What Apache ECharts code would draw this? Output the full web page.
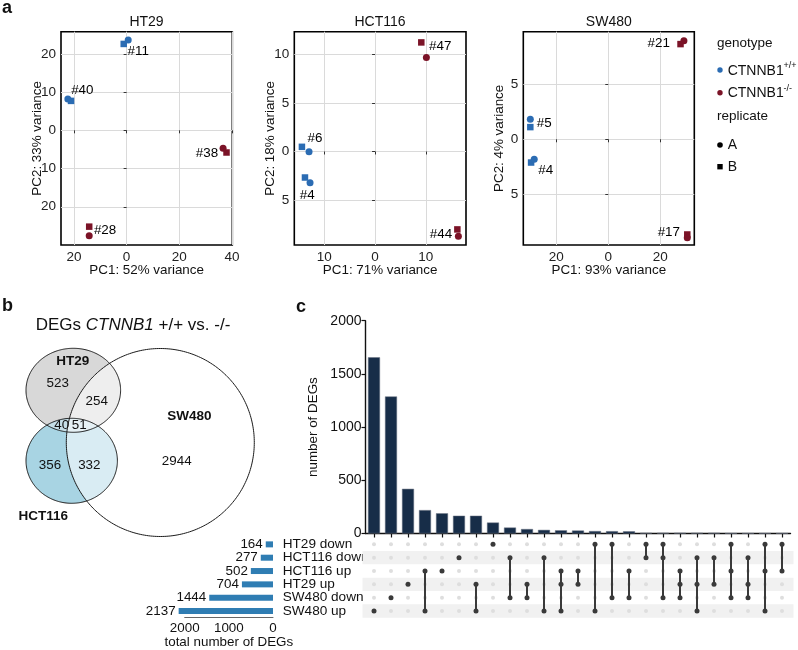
<!DOCTYPE html>
<html><head><meta charset="utf-8">
<script src="https://cdn.jsdelivr.net/npm/echarts@6/dist/echarts.min.js"></script>
<style>html,body{margin:0;padding:0;background:#fff}#c{width:798px;height:650px}</style>
</head><body><div id="c"></div><script>
// ================= DATA =================
// Panel a: PCA
const pcaPanels = ['HT29', 'HCT116', 'SW480'];
const pcaVarPC1 = [52, 71, 93];
const pcaVarPC2 = [33, 18, 4];

const ht29Samples = ['#11', '#40', '#38', '#28'];
const ht29Genotype = ['wt', 'wt', 'ko', 'ko'];
const ht29RepA = [[0.6, 23.6], [-22.3, 8.2], [36.6, -4.7], [-14.2, -27.6]];
const ht29RepB = [[-1.1, 22.6], [-21.1, 7.7], [37.9, -5.8], [-14.2, -25.2]];

const hct116Samples = ['#47', '#6', '#4', '#44'];
const hct116Genotype = ['ko', 'wt', 'wt', 'ko'];
const hct116RepA = [[10.1, 9.65], [-13.0, -0.03], [-12.8, -3.2], [16.4, -8.7]];
const hct116RepB = [[9.1, 11.2], [-14.4, 0.48], [-13.8, -2.67], [16.2, -8.0]];

const sw480Samples = ['#21', '#5', '#4', '#17'];
const sw480Genotype = ['ko', 'wt', 'wt', 'ko'];
const sw480RepA = [[29.1, 8.9], [-30.0, 1.8], [-28.5, -1.8], [30.4, -8.9]];
const sw480RepB = [[27.8, 8.6], [-30.0, 1.1], [-29.7, -2.1], [30.4, -8.6]];

const ht29XTicks = [-20, 0, 20, 40];
const ht29YTicks = [-20, -10, 0, 10, 20];
const hct116XTicks = [-10, 0, 10];
const hct116YTicks = [-5, 0, 5, 10];
const sw480XTicks = [-20, 0, 20];
const sw480YTicks = [-5, 0, 5];

// Panel b: Venn
const vennSets = ['HT29', 'HCT116', 'SW480'];
const vennRegions = ['HT29', 'HT29&SW480', 'HT29&HCT116', 'HT29&HCT116&SW480', 'HCT116', 'HCT116&SW480', 'SW480'];
const vennRegionCounts = [523, 254, 40, 51, 356, 332, 2944];

// Panel c: UpSet
const setNames = ['HT29 down', 'HCT116 down', 'HCT116 up', 'HT29 up', 'SW480 down', 'SW480 up'];
const setSizes = [164, 277, 502, 704, 1444, 2137];
const setSizeTicks = [0, 1000, 2000];
const intersectionTicks = [0, 500, 1000, 1500, 2000];
const intersectionCounts = [1656, 1288, 420, 220, 190, 167, 167, 103, 56, 42, 34, 30, 28, 23, 22, 21, 5, 5, 5, 5, 5, 2, 2, 2, 2];
const intersectionMembers = [
  ['SW480 up'], ['SW480 down'], ['HT29 up'], ['HCT116 up', 'SW480 up'], ['HCT116 up'],
  ['HCT116 down'], ['HT29 up', 'SW480 up'], ['HT29 down'], ['HCT116 down', 'SW480 down'], ['HT29 up', 'SW480 down'],
  ['HCT116 down', 'SW480 up'], ['HCT116 up', 'HT29 up', 'SW480 up'], ['HCT116 up', 'HT29 up'], ['HT29 down', 'SW480 up'], ['HT29 down', 'SW480 down'],
  ['HCT116 up', 'SW480 down'], ['HT29 down', 'HCT116 down'], ['HT29 down', 'HCT116 down', 'SW480 down'], ['HCT116 up', 'HT29 up', 'SW480 down'], ['HCT116 down', 'HT29 up', 'SW480 up'],
  ['HCT116 down', 'HT29 up'], ['HT29 down', 'HCT116 up', 'SW480 down'], ['HCT116 down', 'HT29 up', 'SW480 down'], ['HT29 down', 'HCT116 up', 'SW480 up'], ['HT29 down', 'HCT116 up']
];

// ================= STYLE / LAYOUT =================
const FONT = 'Liberation Sans, Arial, sans-serif';
const genoColor = { wt: '#2b6cb3', ko: '#7b1327' };
const pcaGrids = [
  { left: 61, top: 31.7, width: 171.3, height: 213.3, xmin: -24.9, xmax: 40.1, ymin: -30, ymax: 25.8 },
  { left: 294.3, top: 31.7, width: 171.7, height: 213.3, xmin: -15.9, xmax: 17.9, ymin: -9.6, ymax: 12.3 },
  { left: 523.3, top: 31.7, width: 171, height: 213.3, xmin: -32.7, xmax: 33.1, ymin: -9.55, ymax: 9.72 }
];
const labelLayouts = [
  [{ a: 'left', o: [-0.6, 11.7] }, { a: 'left', o: [3.3, -9] }, { a: 'right', o: [-5, 5] }, { a: 'left', o: [4.7, -5.7] }],
  [{ a: 'left', o: [2.7, -11] }, { a: 'left', o: [-1.6, -13.7] }, { a: 'left', o: [-10.3, 12.3] }, { a: 'right', o: [-6.3, -2] }],
  [{ a: 'right', o: [-14, 2.6] }, { a: 'left', o: [6.4, 4] }, { a: 'left', o: [4, 10.7] }, { a: 'right', o: [-7.3, -5] }]
];
const vennShapes = [
  { cx: 73.3, cy: 90.3, rx: 47.3, ry: 42, fill: '#d8d8d8' },
  { cx: 71.7, cy: 160.8, rx: 45.7, ry: 42.5, fill: '#a8d4e3' },
  { cx: 160.3, cy: 142.5, rx: 94, ry: 94, fill: 'rgba(255,255,255,0.56)' }
];
const lensFill = '#c6dfe8';
const vennCountPos = [[57.7, 83.3], [96.7, 101.7], [61.7, 125.7], [79.3, 125.7], [50, 165], [89.3, 165], [176.7, 161]];
const vennNamePos = [[72.7, 61.7], [43.3, 216.7], [189.3, 116.7]];
const stripeRows = [1, 3, 5];

// ================= BUILD =================
const grids = [], xAxes = [], yAxes = [], series = [];
const panelData = [
  [ht29Samples, ht29Genotype, ht29RepA, ht29RepB, ht29XTicks, ht29YTicks],
  [hct116Samples, hct116Genotype, hct116RepA, hct116RepB, hct116XTicks, hct116YTicks],
  [sw480Samples, sw480Genotype, sw480RepA, sw480RepB, sw480XTicks, sw480YTicks]
];
panelData.forEach((pd, gi) => {
  const g = pcaGrids[gi];
  const [samples, geno, A, B, xt, yt] = pd;
  grids.push({ left: g.left, top: g.top, width: g.width, height: g.height, show: true, borderColor: '#000', borderWidth: 1.6, backgroundColor: 'transparent', containLabel: false, outerBoundsMode: 'none' });
  xAxes.push({
    gridIndex: gi, type: 'value', min: g.xmin, max: g.xmax,
    axisLine: { show: false },
    axisTick: { show: true, length: 3, customValues: xt, lineStyle: { color: '#333' } },
    axisLabel: { customValues: xt, formatter: v => String(Math.abs(v)), color: '#222', fontSize: 13.5, fontFamily: FONT, margin: 5 },
    splitLine: { show: true, lineStyle: { color: '#dadada', width: 1 } },
    name: 'PC1: ' + pcaVarPC1[gi] + '% variance', nameLocation: 'middle', nameGap: 19, nameMoveOverlap: false,
    nameTextStyle: { fontSize: 13.4, color: '#111', fontFamily: FONT }
  });
  yAxes.push({
    gridIndex: gi, type: 'value', min: g.ymin, max: g.ymax,
    axisLine: { show: false },
    axisTick: { show: true, length: 3, customValues: yt, lineStyle: { color: '#333' } },
    axisLabel: { customValues: yt, formatter: v => String(Math.abs(v)), color: '#222', fontSize: 13.5, fontFamily: FONT, margin: 5 },
    splitLine: { show: true, lineStyle: { color: '#dadada', width: 1 } },
    name: 'PC2: ' + pcaVarPC2[gi] + '% variance', nameLocation: 'middle', nameGap: 17, nameMoveOverlap: false,
    nameTextStyle: { fontSize: 13.4, color: '#111', fontFamily: FONT }
  });
  const L = labelLayouts[gi];
  series.push({
    type: 'scatter', xAxisIndex: gi, yAxisIndex: gi, symbol: 'rect', symbolSize: 6.5, z: 3,
    itemStyle: { opacity: 1 },
    data: B.map((p, i) => ({ value: p, itemStyle: { color: genoColor[geno[i]], opacity: 1 } }))
  });
  series.push({
    type: 'scatter', xAxisIndex: gi, yAxisIndex: gi, symbol: 'circle', symbolSize: 7, z: 4,
    itemStyle: { opacity: 1 },
    data: A.map((p, i) => ({
      value: p, itemStyle: { color: genoColor[geno[i]], opacity: 1 },
      label: { show: true, formatter: samples[i], position: 'inside', align: L[i].a, verticalAlign: 'middle', offset: L[i].o, color: '#000', opacity: 1, fontSize: 13.4, fontFamily: FONT }
    }))
  });
});

// Venn hidden grid (index 3)
grids.push({ left: 0, top: 300, width: 330, height: 240, show: false, containLabel: false, outerBoundsMode: 'none' });
xAxes.push({ gridIndex: 3, type: 'value', min: 0, max: 330, show: false });
yAxes.push({ gridIndex: 3, type: 'value', min: 0, max: 240, inverse: true, show: false });

function ellipsePts(s, n) {
  const pts = [];
  for (let i = 0; i < n; i++) { const t = 2 * Math.PI * i / n; pts.push([s.cx + s.rx * Math.cos(t), s.cy + s.ry * Math.sin(t)]); }
  return pts;
}
function insideE(p, s) { const dx = (p[0] - s.cx) / s.rx, dy = (p[1] - s.cy) / s.ry; return dx * dx + dy * dy <= 1; }
function lensPts(a, b) {
  let pts = ellipsePts(a, 360).filter(p => insideE(p, b)).concat(ellipsePts(b, 360).filter(p => insideE(p, a)));
  const mx = pts.reduce((s, p) => s + p[0], 0) / pts.length, my = pts.reduce((s, p) => s + p[1], 0) / pts.length;
  pts.sort((p, q) => Math.atan2(p[1] - my, p[0] - mx) - Math.atan2(q[1] - my, q[0] - mx));
  return pts;
}
series.push({
  type: 'custom', xAxisIndex: 3, yAxisIndex: 3, silent: true, z: 2,
  data: [[0]],
  renderItem: function (params, api) {
    const conv = pts => pts.map(p => api.coord(p));
    const ch = [];
    ch.push({ type: 'polygon', shape: { points: conv(ellipsePts(vennShapes[0], 200)) }, style: { fill: vennShapes[0].fill, stroke: null } });
    ch.push({ type: 'polygon', shape: { points: conv(ellipsePts(vennShapes[1], 200)) }, style: { fill: vennShapes[1].fill, stroke: null } });
    ch.push({ type: 'polygon', shape: { points: conv(lensPts(vennShapes[0], vennShapes[1])) }, style: { fill: lensFill, stroke: null } });
    ch.push({ type: 'polygon', shape: { points: conv(ellipsePts(vennShapes[2], 300)) }, style: { fill: vennShapes[2].fill, stroke: null } });
    vennShapes.forEach(s => ch.push({ type: 'polygon', shape: { points: conv(ellipsePts(s, 300)) }, style: { fill: null, stroke: '#1a1a1a', lineWidth: 1 } }));
    vennRegionCounts.forEach((c, i) => {
      const p = api.coord(vennCountPos[i]);
      ch.push({ type: 'text', x: p[0], y: p[1], style: { text: String(c), fontSize: 13.4, fontFamily: FONT, fill: '#111', align: 'center', verticalAlign: 'middle' } });
    });
    vennSets.forEach((n, i) => {
      const p = api.coord(vennNamePos[i]);
      ch.push({ type: 'text', x: p[0], y: p[1], style: { text: n, fontSize: 13.5, fontWeight: 'bold', fontFamily: FONT, fill: '#111', align: 'center', verticalAlign: 'middle' } });
    });
    return { type: 'group', children: ch };
  }
});

// UpSet intersection bars (grid 4)
const colNames = intersectionMembers.map(m => m.join(' & '));
grids.push({ left: 365.5, top: 320.7, width: 425, height: 212.8, containLabel: false, outerBoundsMode: 'none' });
xAxes.push({ gridIndex: 4, type: 'category', data: colNames, axisLine: { show: true, lineStyle: { color: '#111', width: 1.4 } }, axisTick: { show: true, alignWithLabel: true, interval: 0, length: 4, lineStyle: { color: '#111', width: 1.2 } }, axisLabel: { show: false }, splitLine: { show: false } });
yAxes.push({ gridIndex: 4, type: 'value', min: 0, max: 2000, axisLine: { show: true, lineStyle: { color: '#111', width: 1.4 } }, axisTick: { show: true, length: 4, customValues: intersectionTicks, lineStyle: { color: '#111', width: 1.2 } }, axisLabel: { customValues: intersectionTicks, formatter: v => String(v), color: '#111', fontSize: 14, fontFamily: FONT, margin: 4 }, splitLine: { show: false }, name: 'number of DEGs', nameLocation: 'middle', nameGap: 42, nameTextStyle: { fontSize: 13.4, color: '#111', fontFamily: FONT } });
series.push({ type: 'bar', xAxisIndex: 4, yAxisIndex: 4, data: intersectionCounts, barWidth: 12, itemStyle: { color: '#172d48', borderColor: '#6b7380', borderWidth: 0.5 } });

// UpSet matrix (grid 5)
grids.push({ left: 365.5, top: 537.7, width: 425, height: 80, containLabel: false, outerBoundsMode: 'none' });
xAxes.push({ gridIndex: 5, type: 'category', data: colNames, show: false });
yAxes.push({ gridIndex: 5, type: 'category', data: setNames, inverse: true, axisLine: { show: false }, axisTick: { show: false }, axisLabel: { show: false }, splitLine: { show: false } });
series.push({
  type: 'custom', xAxisIndex: 5, yAxisIndex: 5, z: 1, silent: true, data: stripeRows.map(r => [0, r]),
  renderItem: function (params, api) {
    const p = api.coord([0, api.value(1)]);
    const h = api.size([1, 1])[1];
    const cs = params.coordSys;
    return { type: 'rect', shape: { x: cs.x - 3, y: p[1] - h / 2, width: cs.width + 6, height: h }, style: { fill: '#f1f1f1' } };
  }
});
const bgDots = [];
for (let c = 0; c < intersectionCounts.length; c++) for (let r = 0; r < setNames.length; r++) bgDots.push([c, r]);
series.push({ type: 'scatter', xAxisIndex: 5, yAxisIndex: 5, symbolSize: 4, itemStyle: { color: '#dedede', opacity: 1 }, data: bgDots, silent: true, z: 2 });
const activeDots = [], activeLines = [];
intersectionMembers.forEach((m, c) => {
  const rows = m.map(n => setNames.indexOf(n));
  rows.forEach(r => activeDots.push([c, r]));
  if (rows.length > 1) activeLines.push([c, Math.min(...rows), Math.max(...rows)]);
});
series.push({
  type: 'custom', xAxisIndex: 5, yAxisIndex: 5, z: 3, silent: true, data: activeLines,
  renderItem: function (params, api) {
    const p1 = api.coord([api.value(0), api.value(1)]);
    const p2 = api.coord([api.value(0), api.value(2)]);
    return { type: 'line', shape: { x1: p1[0], y1: p1[1], x2: p2[0], y2: p2[1] }, style: { stroke: '#3a3a3a', lineWidth: 2 } };
  }
});
series.push({ type: 'scatter', xAxisIndex: 5, yAxisIndex: 5, symbolSize: 5, itemStyle: { color: '#3a3a3a', opacity: 1 }, data: activeDots, silent: true, z: 4 });

// Set size bars (grid 6)
grids.push({ left: 184.7, top: 537.7, width: 88.3, height: 80, containLabel: false, outerBoundsMode: 'none' });
xAxes.push({ gridIndex: 6, type: 'value', min: 0, max: 2000, inverse: true, axisLine: { show: true, lineStyle: { color: '#666', width: 1 } }, axisTick: { show: false, customValues: setSizeTicks }, axisLabel: { customValues: setSizeTicks, formatter: v => String(v), color: '#111', fontSize: 13.4, fontFamily: FONT, margin: 4 }, splitLine: { show: false }, name: 'total number of DEGs', nameLocation: 'middle', nameGap: 18, nameMoveOverlap: false, nameTextStyle: { fontSize: 13.4, color: '#111', fontFamily: FONT } });
yAxes.push({ gridIndex: 6, type: 'category', data: setNames, inverse: true, position: 'right', axisLine: { show: false }, axisTick: { show: false }, axisLabel: { interval: 0, align: 'left', margin: 9.7, color: '#111', fontSize: 13.6, fontFamily: FONT } });
series.push({ type: 'bar', xAxisIndex: 6, yAxisIndex: 6, data: setSizes, barWidth: 6, clip: false, itemStyle: { color: '#2f7db3' }, label: { show: true, position: 'left', distance: 3, color: '#111', fontSize: 13.4, fontFamily: FONT } });

// ================= GRAPHIC (titles, legend, panel letters) =================
const T = (x, y, text, o) => Object.assign({ type: 'text', x: x, y: y, style: Object.assign({ text: text, fontSize: 13, fontFamily: FONT, fill: '#111', textAlign: 'left', textVerticalAlign: 'middle' }, o || {}) });
const graphic = [
  T(2, 8, 'a', { fontSize: 18, fontWeight: 'bold' }),
  T(2, 306, 'b', { fontSize: 18, fontWeight: 'bold' }),
  T(296, 307, 'c', { fontSize: 18, fontWeight: 'bold' }),
  T(146.5, 21.7, pcaPanels[0], { fontSize: 14, textAlign: 'center' }),
  T(380, 21.7, pcaPanels[1], { fontSize: 14, textAlign: 'center' }),
  T(608.8, 21.7, pcaPanels[2], { fontSize: 14, textAlign: 'center' }),
  { type: 'text', x: 133, y: 325, style: { text: 'DEGs {i|CTNNB1} +/+ vs. -/-', fontSize: 17, fontFamily: FONT, fill: '#111', textAlign: 'center', textVerticalAlign: 'middle', rich: { i: { fontStyle: 'italic', fontSize: 17, fontFamily: FONT } } } },
  T(717, 43.3, 'genotype', { fontSize: 13.5 }),
  { type: 'circle', shape: { cx: 720, cy: 70, r: 2.7 }, style: { fill: genoColor.wt } },
  T(727.7, 71, 'CTNNB1', { fontSize: 14 }),
  T(783.5, 66, '+/+', { fontSize: 9 }),
  { type: 'circle', shape: { cx: 720, cy: 92.7, r: 2.7 }, style: { fill: genoColor.ko } },
  T(727.7, 93.5, 'CTNNB1', { fontSize: 14 }),
  T(783.5, 88.5, '-/-', { fontSize: 9 }),
  T(717, 116.7, 'replicate', { fontSize: 13.5 }),
  { type: 'circle', shape: { cx: 720, cy: 145, r: 2.8 }, style: { fill: '#000' } },
  T(727.7, 145.5, 'A', { fontSize: 14 }),
  { type: 'rect', shape: { x: 717.3, y: 164, width: 5.4, height: 5.4 }, style: { fill: '#000' } },
  T(727.7, 167, 'B', { fontSize: 14 })
];

const chart = echarts.init(document.getElementById('c'), null, { renderer: 'canvas', width: 798, height: 650 });
chart.setOption({
  animation: false,
  backgroundColor: '#fff',
  textStyle: { fontFamily: FONT },
  grid: grids, xAxis: xAxes, yAxis: yAxes, series: series, graphic: graphic
});
</script></body></html>
